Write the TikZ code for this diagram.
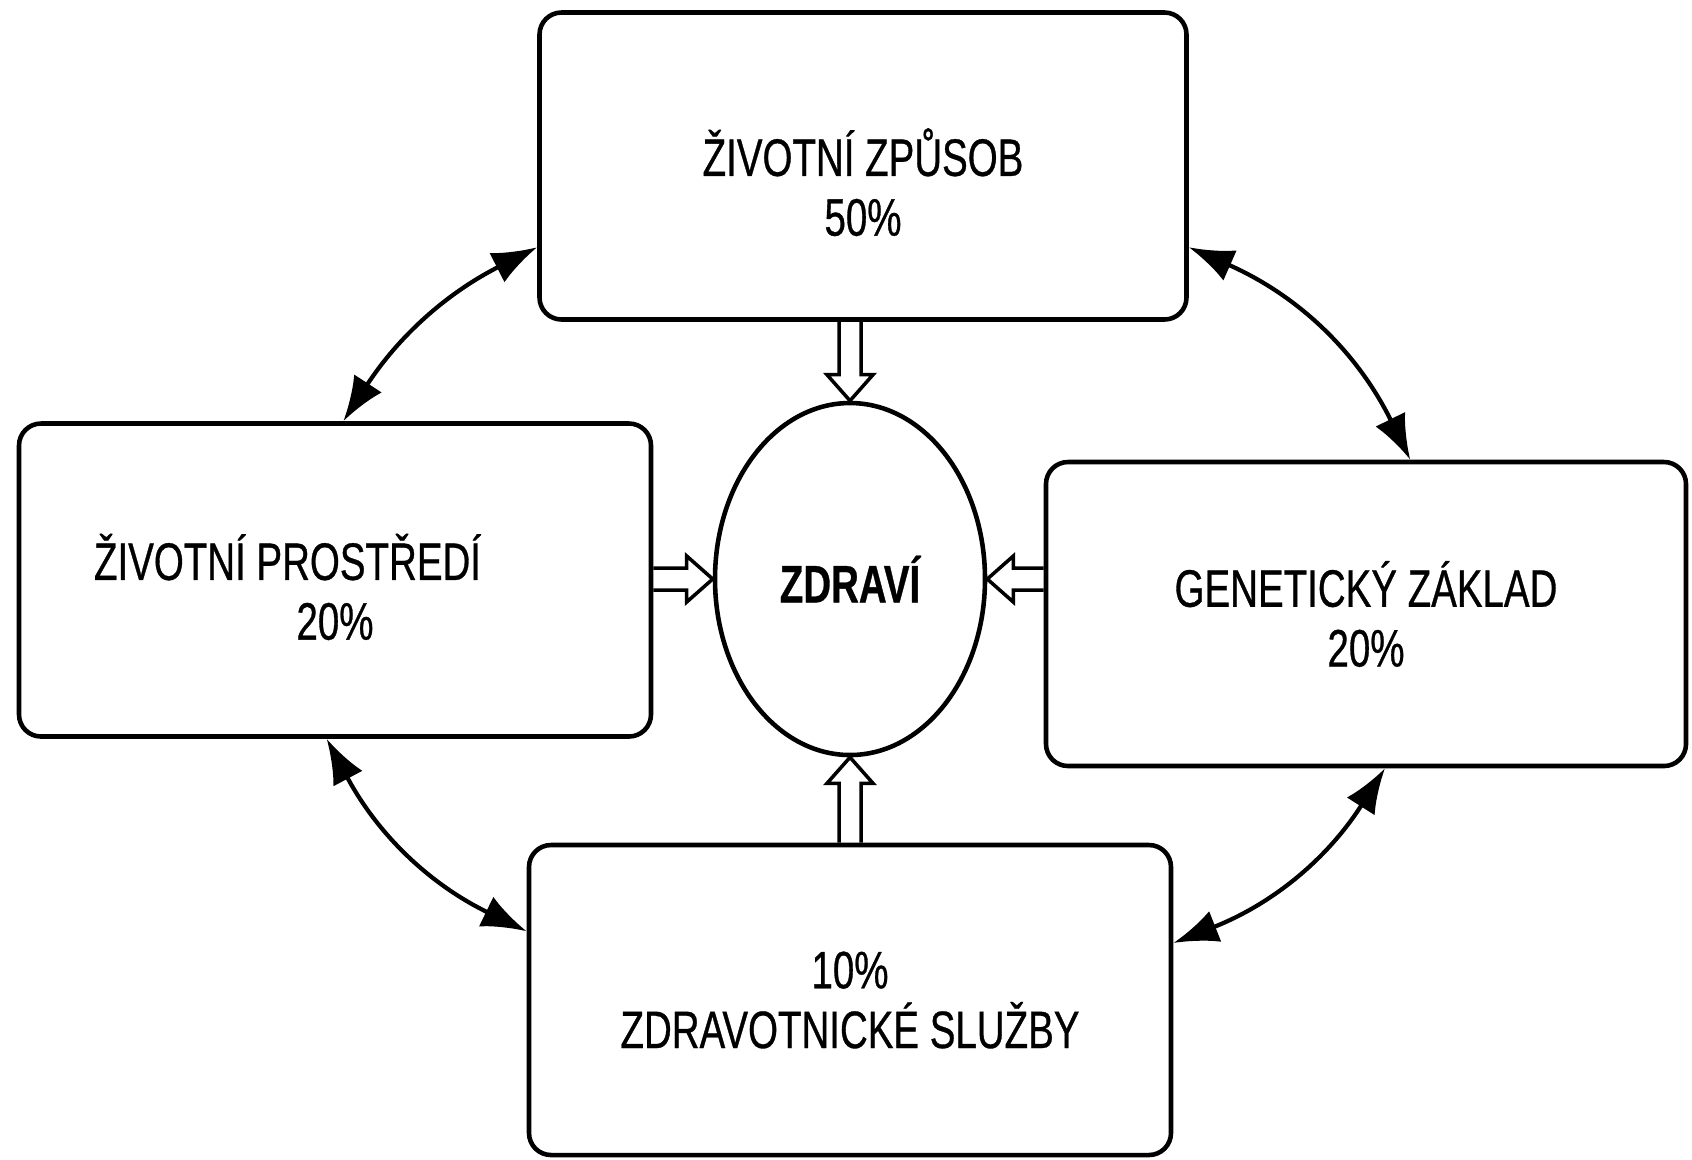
\documentclass[tikz,border=0pt]{standalone}
\usepackage{fontspec}
\setmainfont[FakeStretch=0.73,FakeBold=0.6]{Liberation Sans}
\usetikzlibrary{arrows.meta,shapes.geometric,calc}

\tikzset{
  box/.style={draw,line width=1.3pt,rounded corners=0.22cm,align=center,
    font=\fontsize{15pt}{17pt}\selectfont},
  dblarrow/.style={line width=1.2pt,
    {Latex[length=0.45cm,width=0.33cm]}-{Latex[length=0.45cm,width=0.33cm]}},
}
% hollow block arrow from #1 to #2
\newcommand{\fatarrow}[2]{%
  \draw[line width=1pt,line join=miter]
    ($(#1)!0.11cm!90:(#2)$) -- ($(#2)!0.26cm!(#1)!0.11cm!90:(#2)$)
    -- ($(#2)!0.26cm!(#1)!0.23cm!90:(#2)$) -- (#2)
    -- ($(#2)!0.26cm!(#1)!0.23cm!-90:(#2)$)
    -- ($(#2)!0.26cm!(#1)!0.11cm!-90:(#2)$)
    -- ($(#1)!0.11cm!-90:(#2)$);}

\begin{document}
\begin{tikzpicture}
   \useasboundingbox (0,0) rectangle (16.92,-11.59);
   \node[box,minimum width=6.47cm,minimum height=3.07cm] (life) at (8.63,-1.66)
     {\rule{0pt}{0.8cm}ŽIVOTNÍ ZPŮSOB\\50\%};
   \node[box,minimum width=6.32cm,minimum height=3.13cm] (env) at (3.35,-5.80)
     {\rule{0pt}{0.6cm}ŽIVOTNÍ PROSTŘEDÍ\hspace*{0.95cm}\\20\%};
   \node[box,minimum width=6.40cm,minimum height=3.04cm] (gene) at (13.66,-6.14)
     {GENETICKÝ ZÁKLAD\\20\%};
   \node[box,minimum width=6.42cm,minimum height=3.10cm] (care) at (8.50,-10.00)
     {10\%\\ZDRAVOTNICKÉ SLUŽBY};
   \node[draw,ellipse,line width=1.3pt,minimum width=2.7cm,minimum height=3.52cm,
     inner sep=0pt,font=\fontsize{15pt}{17pt}\selectfont\bfseries] (health)
     at (8.50,-5.79) {ZDRAVÍ};

   \draw[dblarrow] (life.194) to[bend right=15] (env.87);
   \draw[dblarrow] (life.346) to[bend left=20] (gene.74);
   \draw[dblarrow] (env.267) to[bend right=18] (care.168);
   \draw[dblarrow] (gene.277) to[bend left=18] (care.10);

   \coordinate (lifefoot) at (health |- life.south);
   \coordinate (carehead) at (health |- care.north);
   \coordinate (envend) at (env.east |- health);
   \coordinate (geneend) at (gene.west |- health);
   \fatarrow{lifefoot}{health.north}
   \fatarrow{carehead}{health.south}
   \fatarrow{envend}{health.west}
   \fatarrow{geneend}{health.east}
\end{tikzpicture}
\end{document}
